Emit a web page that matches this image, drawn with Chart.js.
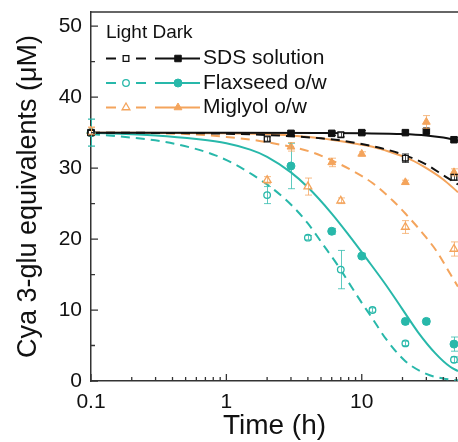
<!DOCTYPE html>
<html>
<head>
<meta charset="utf-8">
<script src="https://cdn.jsdelivr.net/npm/chart.js@4.4.1/dist/chart.umd.min.js"></script>
<style>
  html, body { margin: 0; padding: 0; background: #fff; overflow: hidden; }
  canvas { display: block; }
</style>
</head>
<body>
<canvas id="chart" width="458" height="442"></canvas>
<script>
// measured points (time in h, Cya 3-glu in uM), light = open marks, dark = filled marks
const sdsLightT = [0.1, 2, 7, 21, 48];
const sdsLightY = [35, 34.1, 34.7, 31.4, 28.7];
const sdsLightErr = [0.3, 0.3, 0.3, 0.6, 0.4];
const sdsDarkT = [0.1, 3, 6, 10, 21, 30, 48];
const sdsDarkY = [35, 34.9, 34.9, 35.0, 35.0, 35.2, 34.0];
const sdsDarkErr = [0.3, 0.3, 0.3, 0.3, 0.3, 0.3, 0.3];

const flaxLightT = [0.1, 2, 4, 7, 12, 21, 48];
const flaxLightY = [35, 26.2, 20.2, 15.7, 10.0, 5.3, 3.0];
const flaxLightErr = [1.9, 1.2, 0.3, 2.7, 0.3, 0.3, 0.4];
const flaxDarkT = [0.1, 3, 6, 10, 21, 30, 48];
const flaxDarkY = [35, 30.3, 21.1, 17.6, 8.4, 8.4, 5.2];
const flaxDarkErr = [1.9, 3.2, 0.4, 0.4, 0.4, 0.4, 1.0];

const migLightT = [0.1, 2, 4, 7, 21, 48];
const migLightY = [35.2, 28.3, 27.4, 25.4, 21.7, 18.6];
const migLightErr = [0.5, 0.5, 1.2, 0.4, 0.9, 1.0];
const migDarkT = [0.1, 3, 6, 10, 21, 30, 48];
const migDarkY = [35.3, 33.0, 30.8, 32.0, 28.0, 36.5, 29.4];
const migDarkErr = [0.5, 0.6, 0.6, 0.3, 0.3, 0.9, 0.5];

// fitted curves
const sdsLightFitT = [0.1, 1, 3, 5, 7, 10, 14, 21, 30, 40, 51.4];
const sdsLightFitY = [35, 34.85, 34.5, 34.2, 33.9, 33.4, 32.8, 31.8, 30.5, 29.0, 27.7];
const sdsDarkFitT = [0.1, 1, 5, 10, 20, 30, 40, 51.4];
const sdsDarkFitY = [35, 35, 34.95, 34.9, 34.8, 34.6, 34.3, 33.9];

const flaxLightFitT = [0.1, 0.2, 0.35, 0.57, 0.83, 1.14, 1.58, 2.27, 3.1, 4, 5.1, 6.7, 8.5, 10.1, 12, 15, 21, 30, 40, 51.4];
const flaxLightFitY = [34.8, 34.3, 33.7, 32.8, 31.8, 30.6, 29.0, 26.9, 24.6, 22.2, 19.4, 16.2, 13.1, 10.9, 8.8, 6.0, 2.8, 1.0, 0.35, 0.1];
const flaxDarkFitT = [0.1, 0.3, 0.6, 1, 1.5, 2, 3, 4, 6, 8, 11, 15, 20, 26, 35, 45, 51.4];
const flaxDarkFitY = [35, 34.6, 34.1, 33.5, 32.6, 31.6, 29.4, 27.3, 23.6, 20.6, 17.1, 13.6, 10.1, 6.9, 3.9, 2.0, 1.4];

const migLightFitT = [0.1, 0.5, 1, 1.8, 3, 4.2, 6, 8.6, 12, 17, 21, 30, 36, 45, 51.4];
const migLightFitY = [35, 34.8, 34.4, 33.8, 33.0, 32.3, 31.1, 29.6, 27.9, 25.4, 23.6, 20.2, 18.2, 15.1, 13.3];
const migDarkFitT = [0.1, 1, 3, 5, 8, 12, 16, 23, 30, 40, 51.4];
const migDarkFitY = [35, 34.9, 34.6, 34.2, 33.6, 33.0, 32.3, 31.2, 30.0, 28.4, 26.6];

const seriesNames = ['SDS solution', 'Flaxseed o/w', 'Miglyol o/w'];
const xLabelTicks = [0.1, 1, 10];
const xMinorTicks = [0.2, 0.3, 0.4, 0.5, 0.6, 0.7, 0.8, 0.9, 2, 3, 4, 5, 6, 7, 8, 9, 20, 30, 40, 50];
const yLabelTicks = [0, 10, 20, 30, 40, 50];
const yMinorTicks = [5, 15, 25, 35, 45];

const black = '#111111';
const teal = '#28b8aa';
const orange = '#f4a45c';
const fontFamily = '"Liberation Sans", Arial, sans-serif';

const pts = (xs, ys) => xs.map((x, i) => ({ x: x, y: ys[i] }));

function markers(label, t, v, err, color, style, open, r) {
  return {
    type: 'scatter', label: label, data: pts(t, v), err: err,
    pointStyle: style, pointRadius: r, pointHoverRadius: r,
    pointBackgroundColor: open ? '#ffffff' : color,
    pointBorderColor: color, pointBorderWidth: open ? 1.3 : 1,
    showLine: false, clip: false, order: 0
  };
}

function curve(label, t, v, color, dashed) {
  return {
    type: 'line', label: label, data: pts(t, v),
    borderColor: color, borderWidth: 2, borderDash: dashed ? [9, 6] : [],
    pointRadius: 0, cubicInterpolationMode: 'monotone', fill: false, order: 1
  };
}

const datasets = [
  markers('SDS light', sdsLightT, sdsLightY, sdsLightErr, black, 'rect', true, 4),
  markers('SDS dark', sdsDarkT, sdsDarkY, sdsDarkErr, black, 'rect', false, 4.6),
  markers('Flaxseed light', flaxLightT, flaxLightY, flaxLightErr, teal, 'circle', true, 3.3),
  markers('Flaxseed dark', flaxDarkT, flaxDarkY, flaxDarkErr, teal, 'circle', false, 4),
  markers('Miglyol light', migLightT, migLightY, migLightErr, orange, 'triangle', true, 4.5),
  markers('Miglyol dark', migDarkT, migDarkY, migDarkErr, orange, 'triangle', false, 4.5),
  curve('SDS light fit', sdsLightFitT, sdsLightFitY, black, true),
  curve('SDS dark fit', sdsDarkFitT, sdsDarkFitY, black, false),
  curve('Flaxseed light fit', flaxLightFitT, flaxLightFitY, teal, true),
  curve('Flaxseed dark fit', flaxDarkFitT, flaxDarkFitY, teal, false),
  curve('Miglyol light fit', migLightFitT, migLightFitY, orange, true),
  curve('Miglyol dark fit', migDarkFitT, migDarkFitY, orange, false)
];

// error bars for the marker sets
const errorBars = {
  id: 'errorBars',
  afterDatasetsDraw(chart) {
    const { ctx, scales: { x, y } } = chart;
    ctx.save();
    ctx.lineWidth = 1;
    ctx.globalAlpha = 0.75;
    chart.data.datasets.forEach(ds => {
      if (!ds.err) return;
      ctx.strokeStyle = ds.pointBorderColor;
      ds.data.forEach((p, i) => {
        const e = ds.err[i];
        const px = Math.round(x.getPixelForValue(p.x)) + 0.5;
        const top = y.getPixelForValue(p.y + e);
        const bot = y.getPixelForValue(p.y - e);
        ctx.beginPath();
        ctx.moveTo(px, top); ctx.lineTo(px, bot);
        ctx.moveTo(px - 3.5, top); ctx.lineTo(px + 3.5, top);
        ctx.moveTo(px - 3.5, bot); ctx.lineTo(px + 3.5, bot);
        ctx.stroke();
      });
    });
    ctx.restore();
  }
};

// top frame line and inward tick marks
const frame = {
  id: 'frame',
  afterDraw(chart) {
    const { ctx, chartArea: a, scales: { x, y } } = chart;
    ctx.save();
    ctx.strokeStyle = '#333';
    ctx.lineWidth = 1.5;
    ctx.beginPath();
    ctx.moveTo(a.left, a.top); ctx.lineTo(a.right, a.top);
    ctx.stroke();
    ctx.lineWidth = 1.3;
    ctx.beginPath();
    xLabelTicks.forEach(v => { const p = x.getPixelForValue(v); ctx.moveTo(p, a.bottom); ctx.lineTo(p, a.bottom - 7); });
    xMinorTicks.forEach(v => { const p = x.getPixelForValue(v); ctx.moveTo(p, a.bottom); ctx.lineTo(p, a.bottom - 4); });
    yLabelTicks.forEach(v => { const p = y.getPixelForValue(v); ctx.moveTo(a.left, p); ctx.lineTo(a.left + 7, p); });
    yMinorTicks.forEach(v => { const p = y.getPixelForValue(v); ctx.moveTo(a.left, p); ctx.lineTo(a.left + 4, p); });
    ctx.stroke();
    ctx.restore();
  }
};

// two-column legend: light (dashed, open) and dark (solid, filled)
const pairLegend = {
  id: 'pairLegend',
  afterDraw(chart) {
    const ctx = chart.ctx;
    const ds = chart.data.datasets;
    ctx.save();
    ctx.fillStyle = '#111';
    ctx.textBaseline = 'middle';
    ctx.font = '19px ' + fontFamily;
    ctx.fillText('Light Dark', 106, 33);
    ctx.font = '21px ' + fontFamily;
    seriesNames.forEach((name, i) => {
      const yy = 58.5 + i * 24.5;
      const light = ds[i * 2], dark = ds[i * 2 + 1];
      const color = light.pointBorderColor;
      ctx.strokeStyle = color;
      ctx.lineWidth = 2;
      ctx.setLineDash([]);
      ctx.beginPath();
      ctx.moveTo(106, yy); ctx.lineTo(116, yy);
      ctx.moveTo(136, yy); ctx.lineTo(146, yy);
      ctx.moveTo(155, yy); ctx.lineTo(200, yy);
      ctx.stroke();
      [[light, 126], [dark, 178]].forEach(([d, px]) => {
        ctx.fillStyle = d.pointBackgroundColor;
        ctx.strokeStyle = d.pointBorderColor;
        ctx.lineWidth = d.pointBorderWidth;
        Chart.helpers.drawPoint(ctx, { pointStyle: d.pointStyle, radius: d.pointRadius, borderWidth: d.pointBorderWidth, rotation: 0 }, px, yy);
      });
      ctx.fillStyle = '#111';
      ctx.fillText(name, 203, yy);
    });
    ctx.restore();
  }
};

// drop the label-overflow padding chart.js adds, so the plot box sits where the reference has it
const noLabelPadding = s => { s.paddingTop = 0; s.paddingBottom = 0; s.paddingLeft = 0; s.paddingRight = 0; };

new Chart(document.getElementById('chart'), {
  type: 'scatter',
  data: { datasets: datasets },
  options: {
    responsive: false,
    animation: false,
    devicePixelRatio: 1,
    layout: { autoPadding: false, padding: { top: 12, left: 0, right: 0, bottom: 0 } },
    plugins: { legend: { display: false }, tooltip: { enabled: false } },
    scales: {
      x: {
        type: 'logarithmic', min: 0.1, max: 51.4,
        afterBuildTicks: s => { s.ticks = xLabelTicks.map(v => ({ value: v })); },
        afterFit: s => { s.height = 61; noLabelPadding(s); },
        grid: { display: false, drawTicks: false },
        border: { display: true, color: '#333', width: 1.5 },
        ticks: { color: '#111', font: { family: fontFamily, size: 21 }, padding: 9, maxRotation: 0, autoSkip: false, callback: v => String(v) },
        title: { display: true, text: 'Time (h)', color: '#111', font: { family: fontFamily, size: 28, lineHeight: 1.1 }, padding: { top: 0, bottom: 0 } }
      },
      y: {
        type: 'linear', min: 0, max: 52,
        afterBuildTicks: s => { s.ticks = yLabelTicks.map(v => ({ value: v })); },
        afterFit: s => { s.width = 91; noLabelPadding(s); },
        grid: { display: false, drawTicks: false },
        border: { display: true, color: '#333', width: 1.5 },
        ticks: { color: '#111', font: { family: fontFamily, size: 21 }, padding: 9, callback: v => String(v) },
        title: { display: true, text: 'Cya 3-glu equivalents (\u03bcM)', color: '#111', font: { family: fontFamily, size: 27 }, padding: { top: 12, bottom: 0 } }
      }
    }
  },
  plugins: [errorBars, frame, pairLegend]
});
</script>
</body>
</html>
